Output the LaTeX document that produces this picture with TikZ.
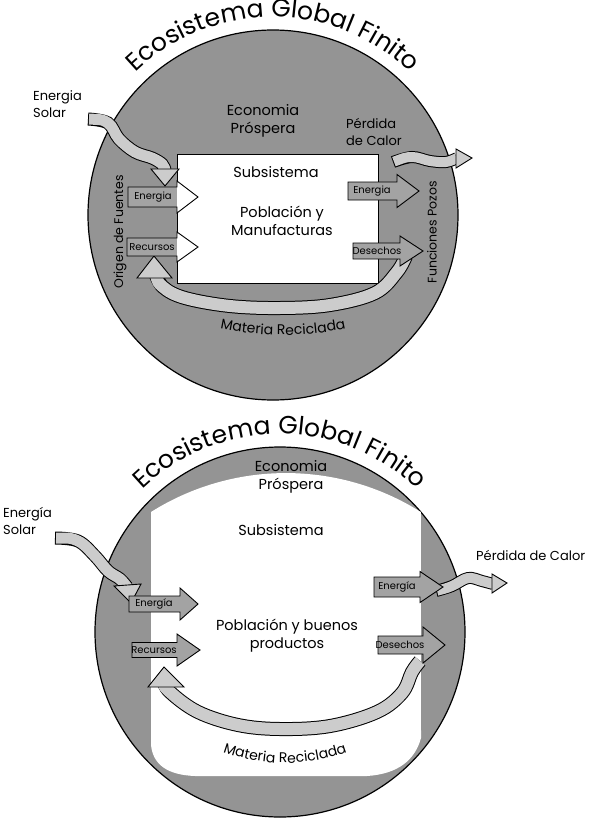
\documentclass[tikz,border=0pt]{standalone}
\usepackage{fontspec}
\setmainfont{Poppins}
\usetikzlibrary{decorations.text}
\tikzset{
  ring/.style={draw=black, line width=1.2pt, fill=black!42},
  boxw/.style={draw=black, line width=0.9pt, fill=white},
  blk/.style={draw=black, line width=0.9pt, fill=black!36, line join=miter},
  lite/.style={draw=black, line width=0.9pt, fill=black!20, line join=miter},
  lbl/.style={font=\fontsize{14.5}{18}\selectfont, align=center, inner sep=0pt},
  lbls/.style={font=\fontsize{13}{17}\selectfont, align=left, inner sep=0pt, anchor=west},
  small/.style={font=\fontsize{10}{12}\selectfont, inner sep=0pt},
  side/.style={font=\fontsize{12.5}{15}\selectfont, inner sep=0pt, rotate=90},
}
% tail x, head base x, tip x, centre y, body half height, head half height
\newcommand\blockarr[6]{%
  \draw[blk] (#1,{#4-#5}) -- (#2,{#4-#5}) -- (#2,{#4-#6}) -- (#3,#4) -- (#2,{#4+#6}) -- (#2,{#4+#5}) -- (#1,{#4+#5}) -- cycle;}
\newcommand\blockarrw[6]{%
  \fill[black!36] (#1,{#4-#5}) rectangle (#2,{#4+#5});
  \fill[white] (#2,{#4-#6}) -- (#3,#4) -- (#2,{#4+#6}) -- cycle;
  \draw[draw=black, line width=0.9pt, line join=miter] (#1,{#4-#5}) -- (#2,{#4-#5}) -- (#2,{#4-#6}) -- (#3,#4) -- (#2,{#4+#6}) -- (#2,{#4+#5}) -- (#1,{#4+#5}) -- cycle;}
\newcommand\wband[2]{%
  \draw[line width=#2pt, black] plot[smooth, tension=0.6] coordinates {#1};
  \draw[line width={(#2-2)*1pt}, black!20, shorten <=1pt] plot[smooth, tension=0.6] coordinates {#1};}
\begin{document}
\begin{tikzpicture}[x=1pt,y=-1pt]
\fill[white] (0,0) rectangle (593,819);
\useasboundingbox (0,0) rectangle (593,819);

%================ TOP =================
\draw[ring] (273,215) circle[radius=185];
\path[decorate, decoration={text along path, text align=center,
  text={|\fontsize{25}{30}\selectfont|Ecosistema Global Finito}}]
  (273,215) ++(200:198) arc[start angle=200, end angle=340, radius=198];
\draw[boxw] (177,154) rectangle (378,283);

% recycled matter band
\wband{(155,272) (163,287) (185,298) (230,306) (280,308) (330,305) (375,293) (397,272) (406,256)}{14}
\draw[lite] (154,256) -- (172,278) -- (137,278) -- cycle;

% solar energy in
\wband{(88,119) (108,123) (119,139) (135,152) (152,158) (162,164) (165,170)}{13}
\draw[lite] (151,169) -- (179,169) -- (165,186) -- cycle;
% heat loss out
\wband{(393,162) (412,157) (430,161) (446,162) (457,158)}{12}
\draw[lite] (456,149) -- (472,158) -- (456,168) -- cycle;

\blockarrw{128}{177}{198}{197}{10}{16}
\blockarrw{127}{177}{198}{247}{9}{15}
\blockarr{348}{397}{419}{191}{9}{16.5}
\blockarr{353}{400}{423}{251}{8}{15}
\node[small] (te1) at (153,197) {Energia};
\node[small] (tr1) at (152,247) {Recursos};
\node[small] (te2) at (372,191) {Energia};
\node[small] (td2) at (377,251) {Desechos};

\node[lbl] (tecon) at (263,121) {Economia\\Próspera};
\node[lbls] (tperd) at (346,132) {Pérdida\\de Calor};
\node[lbl] (tsub) at (276,172) {Subsistema};
\node[lbl] (tpob) at (282,221) {Población y\\Manufacturas};
\node[lbls] (tsol) at (33,104) {Energia\\Solar};
\node[side] (torig) at (120,232) {Origen de Fuentes};
\node[side] (tfunc) at (432,232) {Funciones Pozos};
\path[decorate, decoration={text along path, text align=center,
  text={|\fontsize{14}{17}\selectfont|Materia Reciclada}}]
  (283,30) ++(105:305) arc[start angle=105, end angle=75, radius=305];

%================ BOTTOM =================
\draw[ring] (280,632) circle[radius=185];
\fill[white] (151,745) -- (151,512) arc[start angle=237.8, end angle=302.2, radius=253.2]
  -- (421,738) .. controls (415,760) and (398,774) .. (367,776) -- (195,776)
  .. controls (168,775) and (153,765) .. (151,745) -- cycle;
\path[decorate, decoration={text along path, text align=center,
  text={|\fontsize{25}{30}\selectfont|Ecosistema Global Finito}}]
  (280,632) ++(200:198) arc[start angle=200, end angle=340, radius=198];

\wband{(163,680) (170,692) (198,712) (238,725) (280,729) (330,726) (377,712) (402,693) (412,672) (420,661)}{14}
\draw[lite] (164,667) -- (184,687) -- (148,687) -- cycle;

\wband{(55,538) (78,541) (95,556) (108,571) (120,579) (127,587)}{13}
\draw[lite] (114,586) -- (141,584) -- (131,603) -- cycle;
\wband{(436,591) (452,586) (468,578) (482,581) (493,584)}{12}
\draw[lite] (492,574) -- (507,583) -- (492,593) -- cycle;

\blockarr{129}{180}{198}{604}{8}{16}
\blockarr{132}{177}{200}{650}{7.5}{16}
\blockarr{374}{420}{443}{587}{10}{15.5}
\blockarr{378}{423}{445}{645}{9}{18}
\node[small] (be1) at (154,604) {Energía};
\node[small] (br1) at (154,650) {Recursos};
\node[small] (be2) at (397,587) {Energía};
\node[small] (bd2) at (400,645) {Desechos};

\node[lbl] (becon) at (291,477) {Economia\\Próspera};
\node[lbl] (bsub) at (281,530) {Subsistema};
\node[lbl] (bpob) at (287,636) {Población y buenos\\productos};
\node[lbls, align=left] (bperd) at (476,555) {Pérdida de Calor};
\node[lbls] (bsol) at (3,521) {Energía\\Solar};
\path[decorate, decoration={text along path, text align=center,
  text={|\fontsize{14}{17}\selectfont|Materia Reciclada}}]
  (285,581) ++(125:182) arc[start angle=125, end angle=55, radius=182];
\end{tikzpicture}
\end{document}
